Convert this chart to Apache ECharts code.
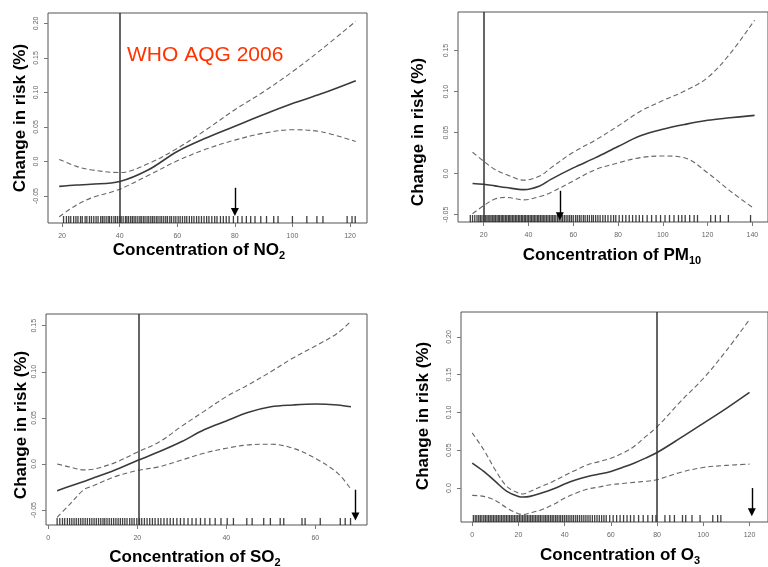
<!DOCTYPE html>
<html>
<head>
<meta charset="utf-8">
<script src="https://cdn.jsdelivr.net/npm/echarts@6/dist/echarts.min.js"></script>
<style>
  html, body { margin: 0; padding: 0; background: #fff; }
  #chart { width: 768px; height: 567px; }
</style>
</head>
<body>
<div id="chart"></div>
<script>
// ---- NO2 panel
const no2X = [19, 25, 30, 40, 50, 60, 70, 80, 90, 100, 110, 122];
const no2Fit = [-0.036, -0.034, -0.033, -0.029, -0.012, 0.0145, 0.034, 0.051, 0.068, 0.084, 0.098, 0.117];
const no2Upper = [0.003, -0.007, -0.012, -0.016, -0.003, 0.019, 0.046, 0.075, 0.101, 0.130, 0.162, 0.203];
const no2Lower = [-0.080, -0.063, -0.053, -0.040, -0.020, 0.001, 0.018, 0.031, 0.041, 0.046, 0.043, 0.029];
const no2Rug = [20.5, 21.5, 22.3, 23, 24, 24.8, 25.5, 26.4, 27, 28, 28.6, 29.5, 30.2, 31, 31.8, 32.5, 33.4, 34, 34.6, 35.3, 36, 36.5, 37.2, 38, 38.6, 39.3, 40, 40.5, 41.2, 42, 42.5, 43.1, 43.8, 44.4, 45, 45.6, 46.3, 47, 47.5, 48.2, 48.8, 49.5, 50.1, 50.8, 51.4, 52, 52.7, 53.3, 54, 54.6, 55.3, 56, 56.6, 57.4, 58, 58.8, 59.5, 60.3, 61, 61.8, 62.6, 63.3, 64.2, 65, 65.8, 66.7, 67.5, 68.4, 69.3, 70.2, 71, 72, 73, 73.8, 75, 76, 77, 78, 79.5, 81, 82.5, 84, 85.5, 87, 89, 91, 93.5, 95, 100, 105, 108.5, 110.6, 119, 120.7, 121.8];
const no2XTicks = [20, 40, 60, 80, 100, 120];
const no2YTicks = [-0.05, 0, 0.05, 0.10, 0.15, 0.20];

// ---- PM10 panel
const pm10X = [15, 20, 25, 30, 38, 45, 50, 60, 70, 80, 90, 100, 110, 120, 130, 141];
const pm10Fit = [-0.012, -0.013, -0.015, -0.017, -0.0195, -0.015, -0.007, 0.007, 0.0195, 0.033, 0.046, 0.054, 0.060, 0.065, 0.068, 0.071];
const pm10Upper = [0.026, 0.015, 0.005, -0.001, -0.008, -0.003, 0.007, 0.026, 0.041, 0.058, 0.076, 0.089, 0.101, 0.117, 0.146, 0.187];
const pm10Lower = [-0.049, -0.039, -0.031, -0.029, -0.032, -0.028, -0.023, -0.009, 0.005, 0.013, 0.0195, 0.0215, 0.019, 0.001, -0.021, -0.043];
const pm10Rug = [14, 15, 16, 17, 17.8, 18.5, 19.2, 20, 20.7, 21.4, 22, 22.7, 23.3, 24, 24.6, 25.2, 25.9, 26.5, 27.1, 27.8, 28.4, 29, 29.7, 30.3, 31, 31.6, 32.2, 32.9, 33.5, 34.2, 34.8, 35.5, 36.1, 36.8, 37.4, 38.1, 38.7, 39.4, 40, 40.7, 41.3, 42, 42.6, 43.3, 44, 44.6, 45.3, 46, 46.6, 47.3, 48, 48.7, 49.4, 50.1, 50.8, 51.5, 52.2, 53, 53.7, 54.5, 55.2, 56, 56.8, 57.6, 58.4, 59.2, 60, 61, 61.8, 62.7, 63.5, 64.5, 65.3, 66.3, 67.2, 68.2, 69, 70, 71, 72, 73.2, 74.3, 75.5, 76.8, 78, 79, 80.5, 82, 83.5, 85, 86.5, 88, 89.5, 91, 93, 95, 97, 99, 101, 103, 105, 107, 108.5, 110, 112, 114, 115.5, 121.4, 123.5, 125.7, 129.3, 139.2];
const pm10XTicks = [20, 40, 60, 80, 100, 120, 140];
const pm10YTicks = [-0.05, 0, 0.05, 0.10, 0.15];

// ---- SO2 panel
const so2X = [2, 5, 8, 10, 15, 20, 25, 30, 35, 40, 45, 50, 55, 60, 65, 68];
const so2Fit = [-0.029, -0.024, -0.019, -0.0156, -0.0065, 0.0036, 0.0134, 0.0243, 0.037, 0.0467, 0.056, 0.062, 0.064, 0.065, 0.064, 0.062];
const so2Upper = [0.0, -0.0036, -0.0065, -0.0058, 0.0014, 0.0127, 0.024, 0.041, 0.057, 0.073, 0.086, 0.100, 0.115, 0.128, 0.142, 0.155];
const so2Lower = [-0.058, -0.043, -0.028, -0.024, -0.0138, -0.0072, -0.003, 0.0043, 0.0116, 0.017, 0.0207, 0.0214, 0.017, 0.006, -0.010, -0.0275];
const so2Rug = [2, 2.6, 3.2, 3.7, 4.3, 4.8, 5.3, 5.8, 6.3, 6.8, 7.3, 7.8, 8.3, 8.8, 9.3, 9.8, 10.3, 10.8, 11.3, 11.8, 12.3, 12.7, 13.2, 13.7, 14.2, 14.7, 15.2, 15.7, 16.2, 16.7, 17.2, 17.7, 18.3, 18.8, 19.3, 19.9, 20.5, 21, 21.6, 22.2, 22.8, 23.4, 24, 24.7, 25.3, 26, 26.7, 27.4, 28.1, 28.9, 29.7, 30.5, 31.4, 32.3, 33.2, 34.2, 35.2, 36.3, 37.5, 38.8, 40.2, 41.6, 44.6, 45.8, 48.4, 49.9, 52.1, 52.9, 57, 57.7, 61.1, 65.6, 66.7, 67.9];
const so2XTicks = [0, 20, 40, 60];
const so2YTicks = [-0.05, 0, 0.05, 0.10, 0.15];

// ---- O3 panel
const o3X = [0, 5, 10, 15, 20, 22, 25, 30, 35, 40, 45, 50, 55, 60, 65, 70, 75, 80, 90, 100, 110, 120];
const o3Fit = [0.033, 0.022, 0.0088, -0.0044, -0.011, -0.0119, -0.011, -0.0066, -0.0013, 0.0053, 0.011, 0.0154, 0.0185, 0.022, 0.0273, 0.033, 0.0396, 0.047, 0.066, 0.0857, 0.1055, 0.1266];
const o3Upper = [0.073, 0.0506, 0.024, 0.0022, -0.0066, -0.0079, -0.0044, 0.0022, 0.0088, 0.0167, 0.024, 0.031, 0.035, 0.0396, 0.046, 0.055, 0.068, 0.081, 0.114, 0.145, 0.182, 0.223];
const o3Lower = [-0.0097, -0.011, -0.0163, -0.0264, -0.0339, -0.035, -0.033, -0.0286, -0.022, -0.0132, -0.0066, -0.0013, 0.0015, 0.0044, 0.006, 0.0075, 0.009, 0.011, 0.0207, 0.0273, 0.030, 0.0317];
const o3Rug = [0.5, 1.3, 2, 2.8, 3.5, 4.2, 5, 5.7, 6.4, 7.1, 7.8, 8.5, 9.2, 9.9, 10.6, 11.3, 12, 12.7, 13.4, 14.1, 14.8, 15.5, 16.2, 16.9, 17.6, 18.3, 19, 19.7, 20.4, 21.1, 21.8, 22.5, 23.2, 23.9, 24.6, 25.3, 26, 26.7, 27.4, 28.1, 28.8, 29.5, 30.2, 31, 31.7, 32.4, 33.1, 33.9, 34.6, 35.3, 36.1, 36.8, 37.6, 38.3, 39.1, 39.9, 40.7, 41.5, 42.3, 43.1, 43.9, 44.8, 45.6, 46.5, 47.4, 48.3, 49.2, 50.1, 51, 52, 53, 54, 55, 56, 57, 58, 59.5, 61, 62.5, 64, 65.5, 67, 68.5, 70, 72, 74, 76, 78, 79.5, 83.4, 85.5, 87.5, 91, 92.4, 95.1, 98.6, 104.1, 106.2, 107.6];
const o3XTicks = [0, 20, 40, 60, 80, 100, 120];
const o3YTicks = [0, 0.05, 0.10, 0.15, 0.20];

// guideline (WHO AQG) and arrow per panel: NO2, PM10, SO2, O3
const guideX = [40, 20, 20.3, 80];
const arrowX = [80, 54, 69, 121];
const arrowTop = [-0.038, -0.021, -0.028, 0.0];
const arrowBottom = [-0.073, -0.052, -0.057, -0.032];

const panels = [
  { x: no2X, fit: no2Fit, up: no2Upper, lo: no2Lower, rug: no2Rug, xt: no2XTicks, yt: no2YTicks,
    xr: [15.1, 125.9], yr: [-0.089, 0.215], grid: { left: 48, top: 13, right: 401, bottom: 344 } },
  { x: pm10X, fit: pm10Fit, up: pm10Upper, lo: pm10Lower, rug: pm10Rug, xt: pm10XTicks, yt: pm10YTicks,
    xr: [8.5, 147], yr: [-0.059, 0.197], grid: { left: 458, top: 12, right: -14, bottom: 345 } },
  { x: so2X, fit: so2Fit, up: so2Upper, lo: so2Lower, rug: so2Rug, xt: so2XTicks, yt: so2YTicks,
    xr: [-0.5, 71.6], yr: [-0.0663, 0.1627], grid: { left: 46, top: 314, right: 401, bottom: 42 } },
  { x: o3X, fit: o3Fit, up: o3Upper, lo: o3Lower, rug: o3Rug, xt: o3XTicks, yt: o3YTicks,
    xr: [-4.85, 128], yr: [-0.0449, 0.233], grid: { left: 461, top: 312, right: -14, bottom: 45 } }
];

const zip = (xs, ys) => xs.map((v, i) => [v, ys[i]]);
const FONT = "'Liberation Sans', Arial, sans-serif";

let grids = [], xAxes = [], yAxes = [], series = [];
panels.forEach((p, i) => {
  grids.push(Object.assign({ show: true, borderColor: '#555', borderWidth: 1, backgroundColor: '#fff' }, p.grid));
  xAxes.push({
    type: 'value', gridIndex: i, min: p.xr[0], max: p.xr[1], position: 'bottom',
    axisLine: { show: false, onZero: false }, splitLine: { show: false },
    axisTick: { show: true, length: 4, customValues: p.xt, lineStyle: { color: '#777' } },
    axisLabel: { customValues: p.xt, fontSize: 7, color: '#666', margin: 10, fontFamily: FONT }
  });
  yAxes.push({
    type: 'value', gridIndex: i, min: p.yr[0], max: p.yr[1], position: 'left',
    axisLine: { show: false, onZero: false }, splitLine: { show: false },
    axisTick: { show: true, length: 4, customValues: p.yt, lineStyle: { color: '#777' } },
    axisLabel: {
      customValues: p.yt, fontSize: 7, color: '#666', margin: 8, rotate: 90, fontFamily: FONT,
      formatter: v => (Math.abs(v) < 1e-9 ? '0.0' : v.toFixed(2))
    }
  });
  // confidence band lines
  [p.up, p.lo].forEach((band, k) => {
    series.push({
      type: 'line', xAxisIndex: i, yAxisIndex: i, data: zip(p.x, band),
      showSymbol: false, smooth: 0.35, silent: true,
      lineStyle: { color: '#666', width: 1.1, type: [5, 3] },
      markLine: k === 0 ? {
        silent: true, symbol: 'none', label: { show: false },
        lineStyle: { color: '#333', width: 1.5, type: 'solid' },
        data: [{ xAxis: guideX[i] }]
      } : undefined
    });
  });
  // fitted curve + arrow
  series.push({
    type: 'line', xAxisIndex: i, yAxisIndex: i, data: zip(p.x, p.fit),
    showSymbol: false, smooth: 0.35, silent: true,
    lineStyle: { color: '#3a3a3a', width: 1.6 },
    markLine: {
      silent: true, symbol: ['none', 'triangle'], symbolSize: 8, label: { show: false },
      lineStyle: { color: '#000', width: 1.4, type: 'solid' },
      itemStyle: { color: '#000' },
      data: [[{ coord: [arrowX[i], arrowTop[i]] }, { coord: [arrowX[i], arrowBottom[i]] }]]
    }
  });
  // rug of observations
  series.push({
    type: 'scatter', xAxisIndex: i, yAxisIndex: i, silent: true, clip: false,
    data: p.rug.map(v => [v, p.yr[0]]),
    symbol: 'rect', symbolSize: [1.3, 7], symbolOffset: [0, -3.5],
    itemStyle: { color: '#111' }
  });
});

const titleRich = {
  b: { fontSize: 17, fontWeight: 'bold', fontFamily: FONT, lineHeight: 22, fill: '#000' },
  s: { fontSize: 11, fontWeight: 'bold', fontFamily: FONT, lineHeight: 12, verticalAlign: 'bottom', fill: '#000' }
};
function xTitle(x, y, main, sub) {
  return { type: 'text', x: x, y: y, silent: true,
    style: { text: '{b|' + main + '}{s|' + sub + '}', rich: titleRich, align: 'center', verticalAlign: 'middle' } };
}
function yTitle(x, y) {
  return { type: 'text', x: x, y: y, rotation: Math.PI / 2, silent: true,
    style: { text: 'Change in risk (%)', font: 'bold 17px ' + FONT, fill: '#000', align: 'center', verticalAlign: 'middle' } };
}

const chart = echarts.init(document.getElementById('chart'));
chart.setOption({
  animation: false,
  backgroundColor: '#fff',
  textStyle: { fontFamily: FONT },
  grid: grids,
  xAxis: xAxes,
  yAxis: yAxes,
  series: series,
  graphic: [
    yTitle(20, 118), yTitle(418, 132), yTitle(21, 425), yTitle(423, 416),
    xTitle(199, 250, 'Concentration of NO', '2'),
    xTitle(612, 255, 'Concentration of PM', '10'),
    xTitle(195, 557, 'Concentration of SO', '2'),
    xTitle(620, 555, 'Concentration of O', '3'),
    { type: 'text', x: 127, y: 55, silent: true,
      style: { text: 'WHO AQG 2006', font: '21px ' + FONT, fill: '#ff3300', align: 'left', verticalAlign: 'middle' } }
  ]
});
</script>
</body>
</html>
